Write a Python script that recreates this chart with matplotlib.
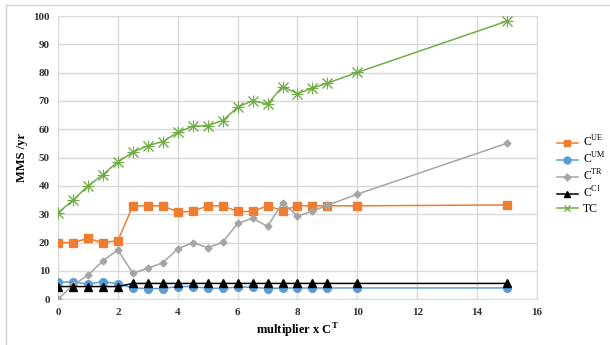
import matplotlib
matplotlib.use("Agg")
import matplotlib.pyplot as plt
from matplotlib.lines import Line2D

plt.rcParams['font.family'] = ['Liberation Serif', 'DejaVu Serif']
plt.rcParams['mathtext.fontset'] = 'custom'
plt.rcParams['mathtext.rm'] = 'Liberation Serif'
plt.rcParams['mathtext.bf'] = 'Liberation Serif:bold'

multiplier = [0, 0.5, 1, 1.5, 2, 2.5, 3, 3.5, 4, 4.5, 5, 5.5, 6, 6.5, 7, 7.5,
              8, 8.5, 9, 10, 15]
c_ue = [20.0, 20.0, 21.5, 20.0, 20.7, 33.0, 33.0, 33.0, 30.8, 31.0, 33.0, 33.0,
        31.0, 31.0, 33.0, 31.3, 33.0, 33.0, 33.0, 33.0, 33.3]
c_um = [6.1, 6.1, 5.4, 6.2, 5.5, 4.0, 3.8, 3.8, 4.5, 4.5, 3.9, 3.9,
        4.3, 4.3, 3.8, 4.0, 4.0, 4.0, 4.0, 4.0, 4.0]
c_tr = [0.0, 5.0, 8.5, 13.6, 17.4, 9.2, 11.0, 12.9, 17.8, 20.0, 18.2, 20.1,
        26.8, 28.6, 25.7, 34.1, 29.4, 31.1, 33.2, 37.1, 55.1]
c_ci = [4.5, 4.5, 4.5, 4.5, 4.5, 5.6, 5.6, 5.6, 5.6, 5.6, 5.6, 5.6,
        5.6, 5.6, 5.6, 5.6, 5.6, 5.6, 5.6, 5.6, 5.6]
tc = [30.5, 35.0, 40.0, 44.0, 48.6, 51.9, 54.2, 55.7, 58.9, 61.1, 61.3, 63.1,
      67.8, 70.1, 68.9, 75.1, 72.6, 74.6, 76.3, 80.1, 98.2]

series = [
    (c_ue, r'C$^{\mathrm{UE}}$', '#ED7D31', 's', 5.5),
    (c_um, r'C$^{\mathrm{UM}}$', '#5B9BD5', 'o', 5.5),
    (c_tr, r'C$^{\mathrm{TR}}$', '#A5A5A5', 'D', 3.5),
    (c_ci, r'C$^{\mathrm{CI}}$', '#000000', '^', 5.5),
    (tc, 'TC', '#70AD47', 'x', 7),
]

fig = plt.figure(figsize=(6.1, 3.45), dpi=100)
ax = fig.add_axes([0.0951, 0.1325, 0.7852, 0.8211])

for vals, label, color, marker, ms in series:
    if marker == 'x':
        ax.plot(multiplier, vals, color=color, lw=1.1, marker='x', ms=ms,
                mew=1.0, label=label, zorder=3)
        ax.plot(multiplier, vals, color=color, lw=0, marker='+', ms=ms * 1.2,
                mew=0.8, zorder=3)
    else:
        ax.plot(multiplier, vals, color=color, lw=1.1, marker=marker, ms=ms,
                label=label, zorder=3)

ax.set_xlim(0, 16)
ax.set_ylim(0, 100)
ax.set_xticks(range(0, 17, 2))
ax.set_yticks(range(0, 101, 10))
ax.grid(True, color='#D9D9D9', lw=1.0)
ax.set_axisbelow(True)
for s in ax.spines.values():
    s.set_color('#D9D9D9')
ax.tick_params(length=0, labelsize=8, pad=6)
for lbl in ax.get_xticklabels() + ax.get_yticklabels():
    lbl.set_fontweight('bold')
    lbl.set_color('#333333')

ax.set_ylabel('MMS /yr', fontsize=9, fontweight='bold', labelpad=4)
ax.set_xlabel(r'multiplier x C$^{\mathbf{T}}$', fontsize=9, fontweight='bold',
              labelpad=4)

handles = [Line2D([], [], color=c, lw=1.1, marker=('x' if m == 'x' else m),
                  ms=(5 if m != 'D' else 3.5)) for _, _, c, m, _ in series]
labels = [l for _, l, _, _, _ in series]
fig.legend(handles, labels, loc='center left', bbox_to_anchor=(0.905, 0.494),
           borderaxespad=0, frameon=False, fontsize=8.5, handlelength=1.8,
           handletextpad=0.4, labelspacing=0.15)

# light frame on the top and left edges of the figure
fig.add_artist(Line2D([6 / 610, 1], [1 - 5 / 345, 1 - 5 / 345],
                      transform=fig.transFigure, color='#D0D0D0', lw=1))
fig.add_artist(Line2D([6 / 610, 6 / 610], [0, 1 - 5 / 345],
                      transform=fig.transFigure, color='#D0D0D0', lw=1))

fig.savefig('out.png', dpi=100)
